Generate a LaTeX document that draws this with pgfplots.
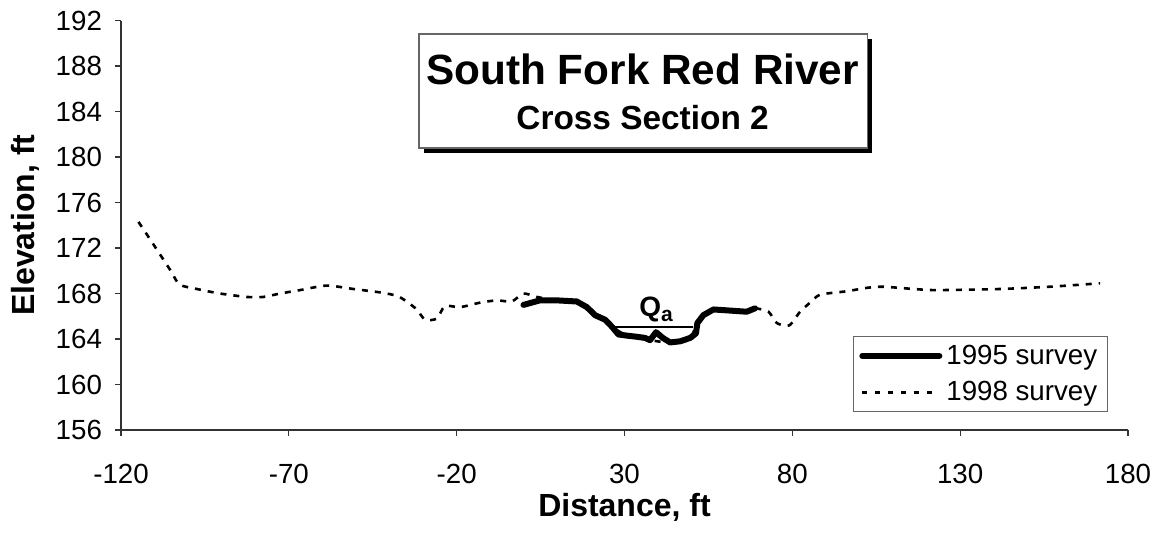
\documentclass[border=0pt]{standalone}
\usepackage{pgfplots}
\pgfplotsset{compat=1.18}
\usepackage{fontspec}
\setmainfont{Liberation Sans}
\begin{document}
\begin{tikzpicture}
\useasboundingbox (-60.5pt,-55.5pt) rectangle (518.5pt,215pt);
\begin{axis}[
  at={(0,0)}, anchor=south west,
  scale only axis, width=503.5pt, height=204.7pt,
  xmin=-120, xmax=180, ymin=156, ymax=192,
  axis x line*=bottom, axis y line*=left,
  axis line style={black!80, line width=0.6pt, -},
  tick style={black!80, line width=0.6pt},
  tick align=outside, major tick length=3pt,
  xtick={-120,-70,-20,30,80,130,180},
  xticklabels={-120,-70,-20,30,80,130,180},
  ytick={156,160,164,168,172,176,180,184,188,192},
  yticklabels={156,160,164,168,172,176,180,184,188,192},
  tick label style={font=\fontsize{13.85}{16}\selectfont},
  xticklabel style={yshift=-10.5pt},
  yticklabel style={xshift=-3pt},
  xlabel={Distance, ft},
  ylabel={Elevation, ft},
  every axis x label/.style={at={(axis description cs:0.5,-0.19)},anchor=center,inner sep=0pt,font=\fontsize{16}{19}\selectfont\bfseries},
  every axis y label/.style={at={(axis description cs:-0.0953,0.5)},anchor=center,inner sep=0pt,rotate=90,font=\fontsize{16}{19}\selectfont\bfseries},
  legend style={at={(rel axis cs:0.980,0.044)}, anchor=south east,
    draw=black!60, line width=0.6pt, font=\fontsize{13.85}{16}\selectfont,
    inner xsep=3pt, inner ysep=2pt, row sep=3pt},
  legend image code/.code={\draw[#1] (0pt,0pt) -- (38.5pt,0pt);},
  legend cell align=left,
  clip=false,
]
% Qa reference line
\addplot[black, line width=0.6pt, forget plot] coordinates {(27.2,165.05) (50.5,165.05)};
% 1998 survey (drawn first so that the 1995 line covers it in the channel)
\addplot[black, line width=1.3pt, dash pattern=on 3pt off 3.5pt, smooth, tension=0.4, forget plot] coordinates {
(-114.8,174.3) (-112.3,173.2) (-105.4,170.1) (-102.6,168.8) (-97.4,168.4) (-90.5,168.0)
(-82.5,167.7) (-77.6,167.7) (-72.6,168.0) (-66.7,168.3) (-58.7,168.7) (-50.8,168.4)
(-42.8,168.1) (-37.8,167.8) (-34.9,167.3) (-31.9,166.6) (-29.4,165.7) (-25.9,165.8)
(-23.5,166.9) (-19.0,166.8) (-13.0,167.2) (-8.0,167.4) (-3.6,167.3) (-0.1,168.0)
(3.9,167.7) (9.8,167.4) (15.8,167.3) (21.2,166.1) (26.2,165.1) (30.7,164.3)
(37.6,163.9) (43.6,163.7) (49.6,164.1) (51.7,165.4) (56.5,166.6) (66.4,166.4) (68.9,166.7)
(72.9,166.4) (75.4,165.4) (79.1,165.2) (82.3,166.4) (85.3,167.2) (88.3,167.9)
(96.2,168.2) (102.2,168.5) (107.1,168.6) (116.1,168.4) (123.0,168.3) (142.0,168.4)
(156.8,168.6) (171.7,168.9)
};
% 1995 survey
\addplot[black, line width=3pt, line cap=round, line join=round] coordinates {
(-0.1,167.0) (4.8,167.4) (9.8,167.4) (15.8,167.3) (18.8,166.8) (21.2,166.1)
(24.2,165.7) (26.2,165.1) (28.2,164.4) (30.7,164.3) (33.6,164.2) (36.1,164.1)
(37.6,163.9) (39.4,164.6) (41.4,164.1) (43.6,163.7) (46.6,163.8) (49.6,164.1)
(51.3,164.5) (51.7,165.4) (53.5,166.1) (56.5,166.6) (61.5,166.5) (66.4,166.4) (68.9,166.7)
};
\addlegendentry{1995 survey}
\addlegendimage{black, line width=1.3pt, dash pattern=on 2.5pt off 4pt}
\addlegendentry{1998 survey}
% Qa label
\node[anchor=base, font=\fontsize{14}{16}\selectfont\bfseries, inner sep=0pt] at (axis cs:39.4,165.97) {Q\raisebox{-0.35ex}{\fontsize{10.5}{12}\selectfont a}};
% title box
\fill[black] ([shift={(2.5pt,-2.5pt)}]rel axis cs:0.296,0.9675) rectangle ([shift={(2.5pt,-2.5pt)}]rel axis cs:0.741,0.689);
\filldraw[fill=white, draw=black!60, line width=0.6pt] (rel axis cs:0.296,0.9675) rectangle (rel axis cs:0.741,0.689);
\node[anchor=base, font=\fontsize{21.15}{24}\selectfont\bfseries, inner sep=0pt] at (rel axis cs:0.518,0.843) {South Fork Red River};
\node[anchor=base, font=\fontsize{16.7}{19}\selectfont\bfseries, inner sep=0pt] at (rel axis cs:0.518,0.733) {Cross Section 2};
\end{axis}
\end{tikzpicture}
\end{document}
